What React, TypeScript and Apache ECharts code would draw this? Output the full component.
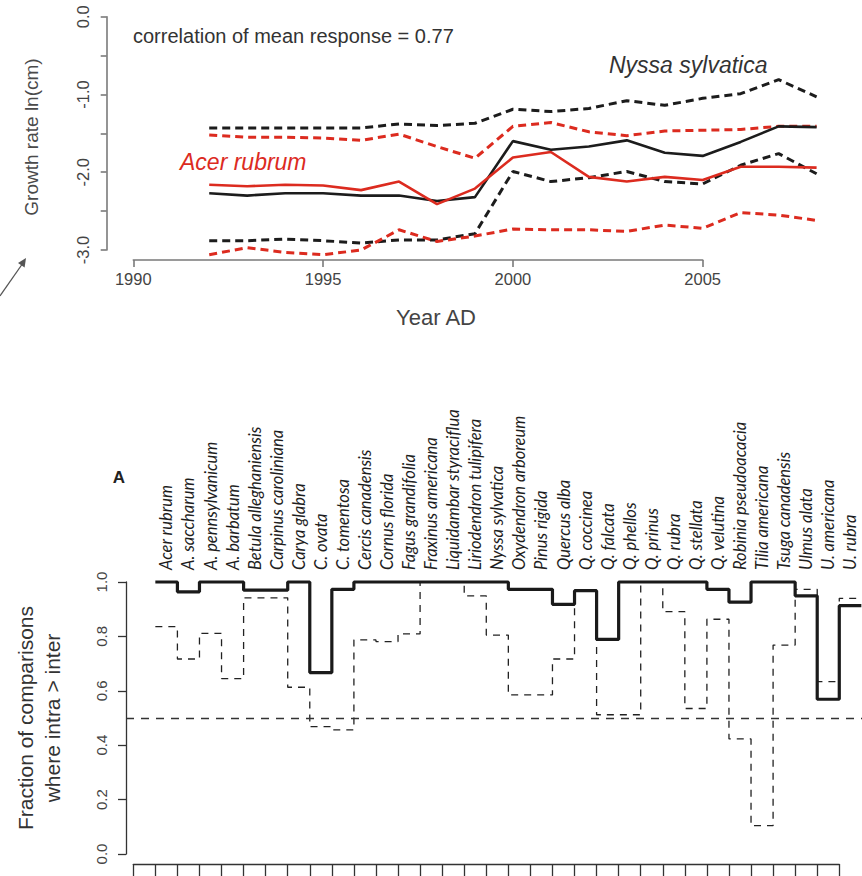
import React, { useEffect, useRef } from "react";
import * as echarts from "echarts";

// ---------- Panel 1: growth rate time series ----------
const years = [1992, 1993, 1994, 1995, 1996, 1997, 1998, 1999, 2000, 2001, 2002, 2003, 2004, 2005, 2006, 2007, 2008];
const nyssaMean = [-2.27, -2.3, -2.27, -2.27, -2.3, -2.3, -2.37, -2.32, -1.6, -1.71, -1.67, -1.59, -1.75, -1.79, -1.61, -1.41, -1.42];
const nyssaUpper = [-1.43, -1.43, -1.43, -1.43, -1.43, -1.38, -1.4, -1.37, -1.19, -1.22, -1.18, -1.08, -1.14, -1.05, -0.99, -0.81, -1.03];
const nyssaLower = [-2.88, -2.88, -2.86, -2.88, -2.91, -2.87, -2.87, -2.79, -1.99, -2.12, -2.07, -1.99, -2.12, -2.15, -1.91, -1.76, -2.02];
const acerMean = [-2.16, -2.18, -2.16, -2.17, -2.23, -2.12, -2.41, -2.21, -1.81, -1.74, -2.06, -2.12, -2.06, -2.1, -1.93, -1.93, -1.94];
const acerUpper = [-1.52, -1.55, -1.55, -1.56, -1.59, -1.51, -1.67, -1.82, -1.41, -1.36, -1.48, -1.53, -1.47, -1.46, -1.45, -1.41, -1.41];
const acerLower = [-3.06, -2.97, -3.03, -3.06, -3.0, -2.74, -2.89, -2.82, -2.73, -2.74, -2.74, -2.76, -2.68, -2.72, -2.52, -2.55, -2.62];
const topXTicks = { min: 1990, max: 2005, step: 5 };
const topYTicks = { min: -3, max: 0, step: 0.5 };
const correlationText = "correlation of mean response = 0.77";

// ---------- Panel 2: fraction of comparisons ----------
const species = [
  "Acer rubrum", "A. saccharum", "A. pennsylvanicum", "A. barbatum", "Betula alleghaniensis",
  "Carpinus caroliniana", "Carya glabra", "C. ovata", "C. tomentosa", "Cercis canadensis",
  "Cornus florida", "Fagus grandifolia", "Fraxinus americana", "Liquidambar styraciflua",
  "Liriodendron tulipifera", "Nyssa sylvatica", "Oxydendron arboreum", "Pinus rigida",
  "Quercus alba", "Q. coccinea", "Q. falcata", "Q. phellos", "Q. prinus", "Q. rubra",
  "Q. stellata", "Q. velutina", "Robinia pseudoacacia", "Tilia americana", "Tsuga canadensis",
  "Ulmus alata", "U. americana", "U. rubra",
];
const solidFrac = [
  1.0, 0.964, 1.0, 1.0, 0.97, 0.97, 1.0, 0.667, 0.973, 1.0,
  1.0, 1.0, 1.0, 1.0, 1.0, 1.0, 0.973, 0.973, 0.918, 0.968,
  0.789, 1.0, 1.0, 1.0, 1.0, 0.973, 0.926, 1.0, 1.0, 0.949,
  0.569, 0.913,
];
const dashedFrac = [
  0.836, 0.717, 0.811, 0.645, 0.942, 0.942, 0.613, 0.468, 0.456, 0.787,
  0.781, 0.809, 1.0, 1.0, 0.949, 0.805, 0.585, 0.585, 0.717, 0.97,
  0.512, 0.512, 1.0, 0.891, 0.535, 0.863, 0.423, 0.104, 0.768, 0.973,
  0.634, 0.94,
];
const refLevel = 0.5;
const bottomYTicks = { min: 0, max: 1, step: 0.2 };

const RED = "#dc2b1f";
const BLK = "#1c1c1c";
const SANS = '"Liberation Sans", Arial, Helvetica, sans-serif';

function stepData(vals: number[]) {
  const d = vals.map((v, i) => [i + 1, v]);
  d.push([vals.length + 1, vals[vals.length - 1]]);
  return d;
}

export default function App() {
  const ref = useRef<HTMLDivElement>(null);
  useEffect(() => {
    if (!ref.current) return;
    const chart = echarts.init(ref.current, null, { renderer: "svg" });
    const hiddenX = (gridIndex: number, min: number, max: number) => ({
      type: "value", gridIndex, min, max, show: false,
    });
    const hiddenY = hiddenX;
    const line = (name: string, vals: number[], color: string, dashed: boolean) => ({
      type: "line",
      name,
      xAxisIndex: 0,
      yAxisIndex: 0,
      data: years.map((y, i) => [y, vals[i]]),
      showSymbol: false,
      symbol: "none",
      clip: false,
      lineStyle: { color, width: dashed ? 3 : 2.6, type: dashed ? [8, 5] : "solid" },
      z: dashed ? 2 : 3,
    });
    const option: any = {
      animation: false,
      backgroundColor: "#ffffff",
      grid: [
        { left: 133.3, top: 5.0, width: 683.3, height: 256.7 },
        { left: 133.3, top: 259, width: 569.4, height: 1 },
        { left: 106.7, top: 16.7, width: 1, height: 233.3 },
        { left: 126, top: 582, width: 736, height: 272 },
        { left: 133.3, top: 863, width: 706, height: 1 },
        { left: 126, top: 582, width: 1, height: 272 },
        { left: 155.4, top: 580, width: 706, height: 1 },
      ],
      xAxis: [
        hiddenX(0, 1990, 2008),
        {
          type: "value", gridIndex: 1, min: topXTicks.min, max: topXTicks.max, interval: topXTicks.step,
          position: "bottom",
          axisLine: { show: true, lineStyle: { color: "#7a7a7a", width: 1.6 } },
          axisTick: { show: true, length: 7, lineStyle: { color: "#7a7a7a", width: 1.6 } },
          axisLabel: { color: "#444", fontSize: 16.5, fontFamily: SANS, margin: 10, formatter: (v: number) => String(v) },
          splitLine: { show: false },
        },
        hiddenX(2, 0, 1),
        hiddenX(3, -0.33, 33.03),
        {
          type: "value", gridIndex: 4, min: 0, max: species.length, interval: 1,
          position: "bottom",
          axisLine: { show: true, lineStyle: { color: "#333", width: 1.3 } },
          axisTick: { show: true, length: 16, lineStyle: { color: "#333", width: 1.3 } },
          axisLabel: { show: false },
          splitLine: { show: false },
        },
        hiddenX(5, 0, 1),
        {
          type: "category", gridIndex: 6, position: "top", data: species, boundaryGap: true,
          axisLine: { show: false }, axisTick: { show: false },
          axisLabel: {
            interval: 0, rotate: 90, margin: 10, color: "#1e1e1e", fontSize: 16.5,
            fontStyle: "italic", fontFamily: 'Lato, "Liberation Sans", sans-serif',
          },
        },
      ],
      yAxis: [
        hiddenY(0, -3.15, 0.15),
        hiddenY(1, 0, 1),
        {
          type: "value", gridIndex: 2, min: topYTicks.min, max: topYTicks.max, interval: topYTicks.step,
          position: "left",
          axisLine: { show: true, lineStyle: { color: "#7a7a7a", width: 1.6 } },
          axisTick: { show: true, length: 6, lineStyle: { color: "#7a7a7a", width: 1.6 } },
          axisLabel: {
            rotate: 90, color: "#444", fontSize: 16.5, fontFamily: SANS, margin: 15,
            formatter: (v: number) => (Math.abs(v - Math.round(v)) < 1e-6 ? v.toFixed(1) : ""),
          },
          splitLine: { show: false },
        },
        hiddenY(3, 0, 1),
        hiddenY(4, 0, 1),
        {
          type: "value", gridIndex: 5, min: bottomYTicks.min, max: bottomYTicks.max, interval: bottomYTicks.step,
          position: "left",
          axisLine: { show: true, lineStyle: { color: "#333", width: 1.3 } },
          axisTick: { show: true, length: 8, lineStyle: { color: "#333", width: 1.3 } },
          axisLabel: {
            rotate: 90, color: "#444", fontSize: 15, fontFamily: SANS, margin: 17,
            formatter: (v: number) => v.toFixed(1),
          },
          splitLine: { show: false },
        },
        hiddenY(6, 0, 1),
      ],
      series: [
        line("Nyssa upper", nyssaUpper, BLK, true),
        line("Nyssa lower", nyssaLower, BLK, true),
        line("Acer upper", acerUpper, RED, true),
        line("Acer lower", acerLower, RED, true),
        line("Nyssa mean", nyssaMean, BLK, false),
        line("Acer mean", acerMean, RED, false),
        {
          type: "line", name: "inter", xAxisIndex: 3, yAxisIndex: 3,
          data: stepData(dashedFrac), step: "end", showSymbol: false, symbol: "none", clip: false,
          lineStyle: { color: "#222", width: 1.3, type: [7, 6] },
          markLine: {
            silent: true, symbol: "none", animation: false,
            label: { show: false },
            lineStyle: { color: "#333", width: 1.3, type: [8, 7] },
            data: [{ yAxis: refLevel }],
          },
          z: 2,
        },
        {
          type: "line", name: "intra", xAxisIndex: 3, yAxisIndex: 3,
          data: stepData(solidFrac), step: "end", showSymbol: false, symbol: "none", clip: false,
          lineStyle: { color: "#1a1a1a", width: 3.2 },
          z: 3,
        },
      ],
      graphic: [
        {
          type: "text", x: 133, y: 36,
          style: { text: correlationText, fill: "#333", fontSize: 20, fontFamily: SANS, align: "left", verticalAlign: "middle" },
        },
        {
          type: "text", x: 609, y: 65,
          style: { text: "Nyssa sylvatica", fill: "#333", fontSize: 23, fontStyle: "italic", fontFamily: SANS, align: "left", verticalAlign: "middle" },
        },
        {
          type: "text", x: 180, y: 162,
          style: { text: "Acer rubrum", fill: RED, fontSize: 23, fontStyle: "italic", fontFamily: SANS, align: "left", verticalAlign: "middle" },
        },
        {
          type: "text", x: 436, y: 317,
          style: { text: "Year AD", fill: "#444", fontSize: 22, fontFamily: SANS, align: "center", verticalAlign: "middle" },
        },
        {
          type: "text", x: 31, y: 137, rotation: Math.PI / 2,
          style: { text: "Growth rate ln(cm)", fill: "#4a4a4a", fontSize: 19, fontFamily: SANS, align: "center", verticalAlign: "middle" },
        },
        {
          type: "line", shape: { x1: 0, y1: 296, x2: 23, y2: 263 },
          style: { stroke: "#555", lineWidth: 1.3 },
        },
        {
          type: "polygon", shape: { points: [[26, 258], [24.6, 267.5], [18, 263]] },
          style: { fill: "#555" },
        },
        {
          type: "text", x: 119, y: 477,
          style: { text: "A", fill: "#222", fontSize: 17, fontWeight: "bold", fontFamily: SANS, align: "center", verticalAlign: "middle" },
        },
        {
          type: "text", x: 25, y: 718, rotation: Math.PI / 2,
          style: { text: "Fraction of comparisons", fill: "#333", fontSize: 21, fontFamily: SANS, align: "center", verticalAlign: "middle" },
        },
        {
          type: "text", x: 52, y: 718, rotation: Math.PI / 2,
          style: { text: "where intra > inter", fill: "#333", fontSize: 21, fontFamily: SANS, align: "center", verticalAlign: "middle" },
        },
      ],
    };
    chart.setOption(option);
    return () => chart.dispose();
  }, []);
  return (
    <div
      ref={ref}
      style={{ position: "fixed", left: 0, top: 0, width: 862, height: 876, background: "#fff" }}
    />
  );
}
